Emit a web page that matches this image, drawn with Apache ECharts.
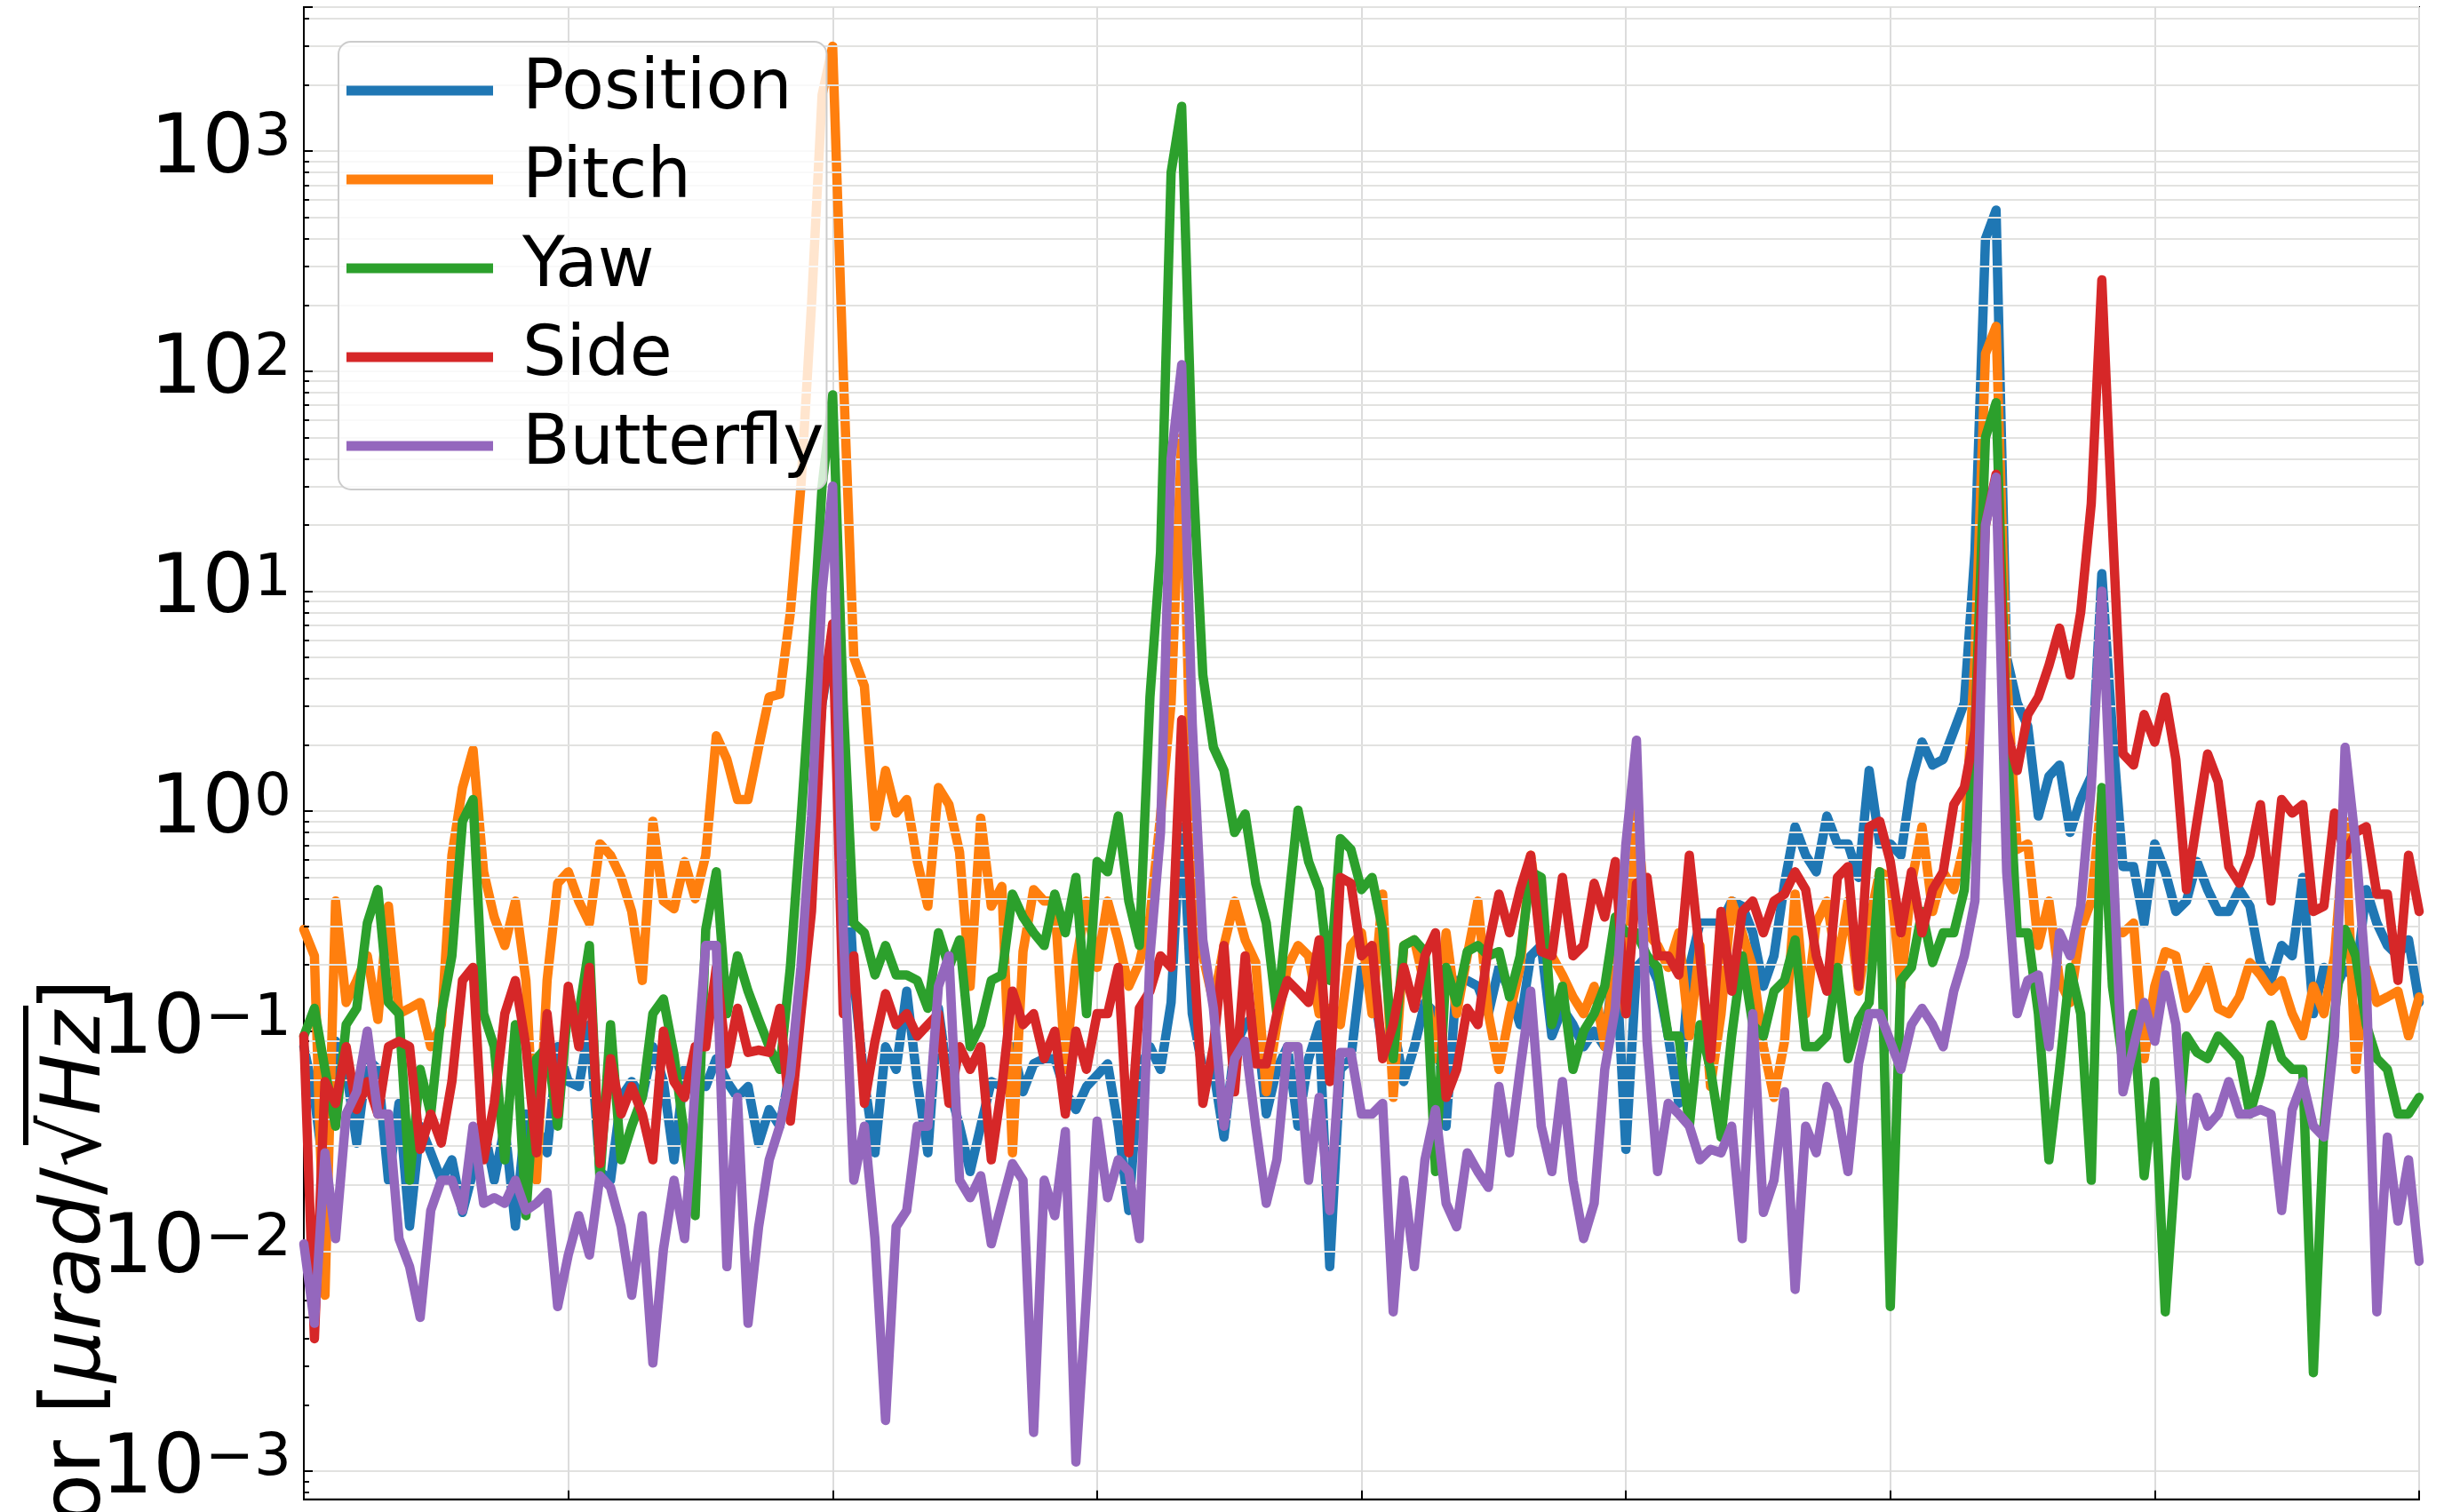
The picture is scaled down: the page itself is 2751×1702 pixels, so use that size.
<!DOCTYPE html>
<html>
<head>
<meta charset="utf-8">
<title>Spectral density</title>
<script src="https://cdn.jsdelivr.net/npm/echarts@6/dist/echarts.min.js"></script>
<style>
  html, body { margin: 0; padding: 0; background: #fff; }
  #chart { width: 2751px; height: 1702px; }
</style>
</head>
<body>
<div id="chart"></div>
<script>
// values per sample (x = sample index 0..200)
const position = [
  0.085, 0.050, 0.021, 0.090, 0.067, 0.031, 0.075, 0.067, 0.021, 0.047,
  0.013, 0.037, 0.028, 0.021, 0.026, 0.015, 0.023, 0.037, 0.021, 0.037,
  0.013, 0.042, 0.037, 0.028, 0.085, 0.059, 0.056, 0.107, 0.023, 0.021,
  0.050, 0.059, 0.050, 0.085, 0.059, 0.026, 0.067, 0.059, 0.056, 0.075,
  0.059, 0.050, 0.056, 0.031, 0.044, 0.037, 0.067, 0.16, 0.71, 3.1,
  6, 1.28, 0.17, 0.059, 0.028, 0.085, 0.067, 0.152, 0.059, 0.028,
  0.127, 0.056, 0.037, 0.023, 0.037, 0.059, 0.056, 0.085, 0.053, 0.071,
  0.075, 0.075, 0.053, 0.044, 0.056, 0.063, 0.071, 0.037, 0.0153, 0.067,
  0.085, 0.067, 0.135, 1.07, 0.12, 0.067, 0.067, 0.033, 0.085, 0.107,
  0.12, 0.042, 0.067, 0.085, 0.037, 0.075, 0.107, 0.0085, 0.067, 0.075,
  0.195, 0.17, 0.085, 0.107, 0.059, 0.085, 0.135, 0.12, 0.037, 0.17,
  0.17, 0.16, 0.12, 0.195, 0.152, 0.107, 0.22, 0.245, 0.095, 0.127,
  0.107, 0.085, 0.10, 0.085, 0.245, 0.029, 0.195, 0.22, 0.17, 0.095,
  0.047, 0.195, 0.31, 0.31, 0.31, 0.39, 0.37, 0.28, 0.16, 0.22,
  0.47, 0.85, 0.63, 0.53, 0.95, 0.71, 0.71, 0.50, 1.53, 0.71,
  0.71, 0.63, 1.36, 2.06, 1.62, 1.72, 2.31, 3.1, 15, 400,
  540, 5, 3.1, 2.43, 0.95, 1.44, 1.62, 0.80, 1.13, 1.44,
  12, 2.31, 0.56, 0.56, 0.31, 0.71, 0.53, 0.35, 0.39, 0.59,
  0.44, 0.35, 0.35, 0.44, 0.37, 0.205, 0.17, 0.245, 0.22, 0.50,
  0.12, 0.195, 0.152, 0.195, 0.17, 0.44, 0.31, 0.245, 0.22, 0.26,
  0.135
];
const pitch = [
  0.29, 0.22, 0.0063, 0.39, 0.135, 0.17, 0.22, 0.113, 0.37, 0.12,
  0.127, 0.135, 0.085, 0.107, 0.63, 1.28, 1.9, 0.53, 0.33, 0.245,
  0.39, 0.17, 0.021, 0.17, 0.47, 0.53, 0.39, 0.31, 0.71, 0.63,
  0.50, 0.35, 0.17, 0.90, 0.39, 0.36, 0.59, 0.40, 0.63, 2.2,
  1.72, 1.13, 1.13, 1.95, 3.3, 3.4, 8, 30, 200, 1800,
  3000, 100, 5, 3.7, 0.85, 1.53, 0.98, 1.13, 0.59, 0.37,
  1.28, 1.07, 0.65, 0.16, 0.93, 0.37, 0.455, 0.028, 0.23, 0.44,
  0.39, 0.39, 0.067, 0.205, 0.39, 0.195, 0.39, 0.26, 0.16, 0.205,
  0.33, 0.95, 3.1, 50, 0.80, 0.22, 0.135, 0.245, 0.39, 0.26,
  0.205, 0.053, 0.107, 0.195, 0.245, 0.22, 0.12, 0.127, 0.107, 0.245,
  0.28, 0.12, 0.42, 0.050, 0.245, 0.26, 0.16, 0.075, 0.28, 0.12,
  0.22, 0.39, 0.12, 0.067, 0.12, 0.195, 0.63, 0.28, 0.22, 0.18,
  0.143, 0.12, 0.16, 0.085, 0.22, 0.12, 1.01, 0.28, 0.245, 0.195,
  0.28, 0.095, 0.245, 0.056, 0.12, 0.39, 0.28, 0.195, 0.085, 0.050,
  0.090, 0.42, 0.12, 0.31, 0.39, 0.195, 0.39, 0.152, 0.31, 0.53,
  0.50, 0.16, 0.47, 0.85, 0.35, 0.53, 0.44, 0.71, 5, 120,
  160, 4.2, 0.67, 0.71, 0.245, 0.39, 0.17, 0.135, 0.29, 0.39,
  1.2, 0.29, 0.28, 0.31, 0.075, 0.16, 0.23, 0.22, 0.127, 0.152,
  0.195, 0.127, 0.12, 0.143, 0.205, 0.18, 0.152, 0.17, 0.12, 0.095,
  0.16, 0.12, 0.22, 0.90, 0.067, 0.195, 0.135, 0.143, 0.152, 0.095,
  0.143
];
const yaw = [
  0.095, 0.127, 0.067, 0.037, 0.107, 0.127, 0.31, 0.44, 0.135, 0.12,
  0.021, 0.067, 0.042, 0.12, 0.22, 0.90, 1.13, 0.12, 0.085, 0.026,
  0.107, 0.0145, 0.075, 0.085, 0.037, 0.135, 0.12, 0.245, 0.021, 0.107,
  0.026, 0.037, 0.050, 0.12, 0.14, 0.078, 0.033, 0.0145, 0.29, 0.53,
  0.12, 0.22, 0.152, 0.113, 0.085, 0.067, 0.195, 0.90, 4.6, 30,
  78, 3.1, 0.31, 0.28, 0.18, 0.245, 0.18, 0.18, 0.17, 0.127,
  0.28, 0.195, 0.26, 0.085, 0.107, 0.17, 0.18, 0.42, 0.33, 0.28,
  0.245, 0.42, 0.28, 0.50, 0.12, 0.59, 0.53, 0.95, 0.39, 0.245,
  3.3, 15, 800, 1600, 40, 4.16, 1.95, 1.53, 0.80, 0.97,
  0.47, 0.31, 0.12, 0.35, 1.01, 0.59, 0.44, 0.17, 0.75, 0.67,
  0.44, 0.50, 0.29, 0.075, 0.245, 0.26, 0.23, 0.023, 0.195, 0.135,
  0.23, 0.245, 0.22, 0.23, 0.143, 0.22, 0.53, 0.50, 0.107, 0.16,
  0.067, 0.10, 0.12, 0.16, 0.33, 0.28, 0.28, 0.22, 0.195, 0.095,
  0.095, 0.037, 0.107, 0.067, 0.033, 0.095, 0.22, 0.107, 0.095, 0.152,
  0.17, 0.26, 0.085, 0.085, 0.095, 0.195, 0.075, 0.113, 0.135, 0.53,
  0.0056, 0.17, 0.195, 0.35, 0.205, 0.28, 0.28, 0.44, 2.31, 50,
  72, 2.31, 0.28, 0.28, 0.12, 0.026, 0.067, 0.195, 0.12, 0.021,
  1.28, 0.16, 0.071, 0.12, 0.022, 0.059, 0.0053, 0.026, 0.095, 0.080,
  0.075, 0.095, 0.085, 0.075, 0.042, 0.063, 0.107, 0.075, 0.067, 0.067,
  0.0028, 0.037, 0.12, 0.29, 0.22, 0.107, 0.075, 0.067, 0.042, 0.042,
  0.050
];
const side = [
  0.095, 0.0040, 0.059, 0.047, 0.085, 0.044, 0.059, 0.042, 0.085, 0.090,
  0.085, 0.029, 0.042, 0.031, 0.059, 0.17, 0.195, 0.026, 0.047, 0.12,
  0.17, 0.085, 0.028, 0.12, 0.042, 0.16, 0.085, 0.195, 0.025, 0.075,
  0.042, 0.056, 0.042, 0.026, 0.10, 0.059, 0.050, 0.085, 0.085, 0.195,
  0.071, 0.127, 0.080, 0.082, 0.080, 0.127, 0.039, 0.12, 0.35, 3.1,
  7.1, 0.12, 0.22, 0.047, 0.090, 0.148, 0.107, 0.12, 0.095, 0.107,
  0.12, 0.047, 0.085, 0.067, 0.085, 0.026, 0.056, 0.152, 0.107, 0.12,
  0.075, 0.10, 0.042, 0.10, 0.067, 0.12, 0.12, 0.195, 0.028, 0.127,
  0.152, 0.22, 0.195, 2.6, 0.28, 0.047, 0.085, 0.245, 0.053, 0.22,
  0.071, 0.071, 0.12, 0.17, 0.152, 0.135, 0.26, 0.059, 0.50, 0.47,
  0.22, 0.245, 0.075, 0.107, 0.195, 0.127, 0.22, 0.28, 0.050, 0.067,
  0.127, 0.107, 0.245, 0.42, 0.28, 0.44, 0.63, 0.23, 0.22, 0.50,
  0.22, 0.245, 0.47, 0.33, 0.59, 0.12, 0.47, 0.50, 0.22, 0.22,
  0.18, 0.63, 0.22, 0.075, 0.35, 0.152, 0.35, 0.39, 0.28, 0.39,
  0.42, 0.53, 0.44, 0.22, 0.152, 0.50, 0.56, 0.16, 0.85, 0.90,
  0.59, 0.28, 0.53, 0.28, 0.44, 0.53, 1.07, 1.28, 2.31, 20,
  34, 2.31, 1.53, 2.75, 3.3, 4.6, 6.8, 4.16, 8, 25,
  260, 20, 1.82, 1.62, 2.75, 2.06, 3.3, 1.72, 0.44, 0.90,
  1.82, 1.36, 0.56, 0.47, 0.63, 1.07, 0.39, 1.13, 0.98, 1.07,
  0.35, 0.37, 0.98, 0.63, 0.80, 0.85, 0.42, 0.42, 0.17, 0.63,
  0.35
];
const butterfly = [
  0.0108, 0.0047, 0.028, 0.0114, 0.042, 0.053, 0.10, 0.042, 0.042, 0.0114,
  0.0085, 0.0050, 0.0153, 0.021, 0.021, 0.0153, 0.037, 0.0165, 0.0175, 0.0165,
  0.021, 0.0153, 0.0165, 0.0185, 0.0056, 0.0096, 0.0145, 0.0096, 0.022, 0.0195,
  0.0129, 0.0063, 0.0145, 0.0031, 0.0102, 0.021, 0.0114, 0.056, 0.245, 0.245,
  0.0085, 0.050, 0.0047, 0.0129, 0.026, 0.037, 0.063, 0.195, 0.95, 10,
  30, 0.29, 0.021, 0.037, 0.0114, 0.0017, 0.0129, 0.0153, 0.037, 0.037,
  0.16, 0.22, 0.021, 0.0175, 0.022, 0.0108, 0.0165, 0.025, 0.021, 0.0015,
  0.021, 0.0145, 0.035, 0.0011, 0.0063, 0.039, 0.0175, 0.026, 0.023, 0.0114,
  0.22, 0.80, 40, 107, 2.5, 0.26, 0.127, 0.037, 0.075, 0.090,
  0.037, 0.0165, 0.026, 0.085, 0.085, 0.021, 0.050, 0.0153, 0.080, 0.080,
  0.042, 0.042, 0.047, 0.0053, 0.021, 0.0085, 0.026, 0.044, 0.0165, 0.0129,
  0.028, 0.023, 0.0195, 0.056, 0.028, 0.067, 0.152, 0.037, 0.023, 0.059,
  0.021, 0.0114, 0.0165, 0.067, 0.127, 0.71, 2.1, 0.090, 0.023, 0.047,
  0.042, 0.037, 0.026, 0.029, 0.028, 0.037, 0.0114, 0.12, 0.015, 0.021,
  0.053, 0.0067, 0.037, 0.028, 0.056, 0.044, 0.023, 0.071, 0.12, 0.12,
  0.090, 0.067, 0.107, 0.127, 0.107, 0.085, 0.152, 0.22, 0.39, 20,
  33, 0.53, 0.12, 0.17, 0.18, 0.085, 0.28, 0.22, 0.37, 1.28,
  10, 0.71, 0.053, 0.085, 0.135, 0.090, 0.18, 0.107, 0.022, 0.050,
  0.037, 0.042, 0.059, 0.042, 0.042, 0.044, 0.042, 0.0153, 0.044, 0.059,
  0.037, 0.033, 0.095, 1.95, 0.71, 0.17, 0.0053, 0.033, 0.0137, 0.026,
  0.0090
];

const seriesNames = ['Position', 'Pitch', 'Yaw', 'Side', 'Butterfly'];
const seriesValues = [position, pitch, yaw, side, butterfly];
const seriesColors = ['#1f77b4', '#ff7f0e', '#2ca02c', '#d62728', '#9467bd'];

// y range of the log axis (cropped figure)
const yMin = 7.44e-4;
const yMax = 4518;
const FONT = 'DejaVu Sans';

// minor grid lines at 2..9 x 10^n
const minorTicks = [];
for (let e = -4; e <= 3; e++) {
  for (let k = 2; k <= 9; k++) {
    const v = k * Math.pow(10, e);
    if (v > yMin && v < yMax) minorTicks.push(v);
  }
}

function expLabel(v) {
  const e = Math.log10(v);
  const r = Math.round(e);
  if (Math.abs(e - r) > 1e-6) return '';
  return '{b|10}{s|' + (r < 0 ? '\u2212' + (-r) : r) + '}';
}

const chart = echarts.init(document.getElementById('chart'));

const lineSeries = seriesNames.map(function (name, i) {
  return {
    name: name,
    type: 'line',
    data: seriesValues[i].map(function (v, j) { return [j, v]; }),
    showSymbol: false,
    symbol: 'none',
    lineStyle: { color: seriesColors[i], width: 10.5, cap: 'round', join: 'round' },
    itemStyle: { color: seriesColors[i] },
    z: 3 + i,
    silent: true
  };
});

// helper series: minor grid lines + minor ticks
lineSeries.unshift({
  name: 'minorGrid',
  type: 'line',
  data: [],
  z: 1,
  silent: true,
  markLine: {
    silent: true,
    symbol: ['none', 'none'],
    animation: false,
    label: { show: false },
    lineStyle: { color: '#e2e2e0', width: 2, type: 'solid' },
    data: minorTicks.map(function (v) { return { yAxis: v }; })
  }
});
lineSeries.push({
  name: 'minorTick',
  type: 'line',
  data: [],
  z: 20,
  silent: true,
  markLine: {
    silent: true,
    symbol: ['none', 'none'],
    animation: false,
    label: { show: false },
    lineStyle: { color: '#000', width: 2, type: 'solid' },
    data: minorTicks.map(function (v) { return [{ coord: [0, v] }, { coord: [0.5, v] }]; })
  }
});

chart.setOption({
  animation: false,
  backgroundColor: '#ffffff',
  grid: {
    left: 342, right: 28, top: 8, bottom: 5,
    show: true, borderColor: '#000', borderWidth: 2, backgroundColor: 'transparent'
  },
  xAxis: {
    type: 'value', min: 0, max: 200, interval: 25,
    axisLine: { show: true, lineStyle: { color: '#000', width: 2 } },
    axisTick: { show: true, inside: true, length: 10, lineStyle: { color: '#000', width: 2 } },
    axisLabel: { show: false },
    splitLine: { show: true, lineStyle: { color: '#dcdcdc', width: 2 } }
  },
  yAxis: {
    type: 'log', logBase: 10, min: yMin, max: yMax,
    axisLine: { show: true, lineStyle: { color: '#000', width: 2 } },
    axisTick: { show: true, inside: true, length: 10, lineStyle: { color: '#000', width: 2 } },
    splitLine: { show: true, lineStyle: { color: '#e2e2e0', width: 2 } },
    axisLabel: {
      margin: 14,
      color: '#000',
      formatter: expLabel,
      rich: {
        b: { fontFamily: FONT, fontSize: 92, lineHeight: 92, color: '#000' },
        s: { fontFamily: FONT, fontSize: 66, lineHeight: 6, verticalAlign: 'top', color: '#000' }
      }
    }
  },
  legend: {
    data: seriesNames,
    orient: 'vertical',
    left: 381, top: 47,
    icon: 'rect',
    itemWidth: 165, itemHeight: 11, itemGap: 22,
    padding: [16, 3, 10, 9],
    backgroundColor: 'rgba(255,255,255,0.8)',
    borderColor: '#cccccc', borderWidth: 2, borderRadius: 14,
    selectedMode: false,
    textStyle: { fontFamily: FONT, fontSize: 78, color: '#000', lineHeight: 60, padding: [0, 0, 0, 28] },
    z: 30
  },
  graphic: [
    {
      type: 'text', x: 88, y: 1102, rotation: Math.PI / 2, z: 100,
      style: {
        text: '{n|Error [}{i|\u03bcrad}{n|/\u221a}{i|Hz}{n|]}',
        align: 'right', verticalAlign: 'middle', fill: '#000',
        rich: {
          n: { fontFamily: FONT, fontSize: 92 },
          i: { fontFamily: FONT, fontSize: 92, fontStyle: 'italic' }
        }
      }
    },
    { type: 'rect', z: 100, shape: { x: 26, y: 1132, width: 6, height: 157 }, style: { fill: '#000' } }
  ],
  series: lineSeries
});
</script>
</body>
</html>
